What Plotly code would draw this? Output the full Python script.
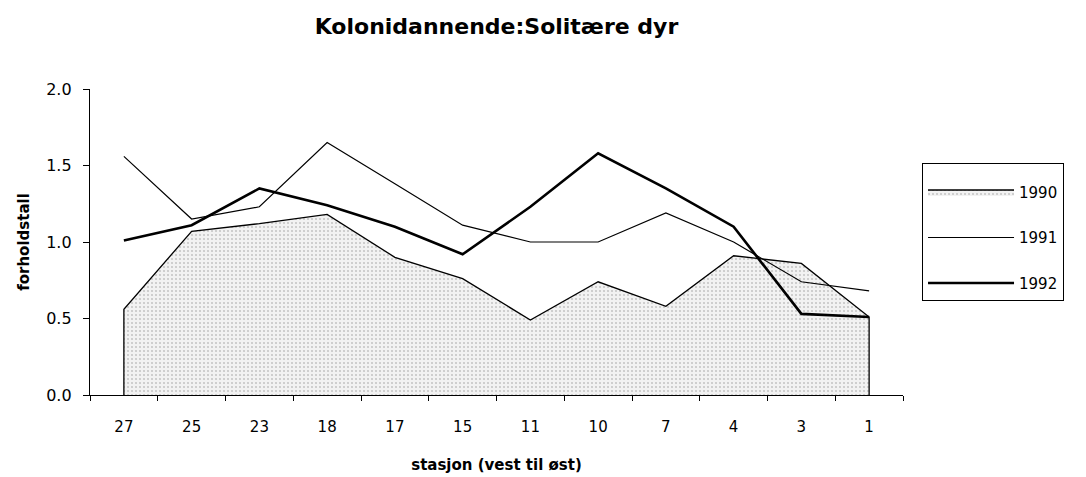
import plotly.graph_objects as go

# stations, west to east
stations = ["27", "25", "23", "18", "17", "15", "11", "10", "7", "4", "3", "1"]

ratio_1990 = [0.56, 1.07, 1.12, 1.18, 0.90, 0.76, 0.49, 0.74, 0.58, 0.91, 0.86, 0.51]
ratio_1991 = [1.56, 1.15, 1.23, 1.65, 1.38, 1.11, 1.00, 1.00, 1.19, 1.00, 0.74, 0.68]
ratio_1992 = [1.01, 1.11, 1.35, 1.24, 1.10, 0.92, 1.23, 1.58, 1.35, 1.10, 0.53, 0.51]

FONT = "DejaVu Sans"

fig = go.Figure()

# area for 1990, closed down to zero at both ends so the outline has vertical edges
fig.add_trace(
    go.Scatter(
        x=[stations[0]] + stations + [stations[-1]],
        y=[0.0] + ratio_1990 + [0.0],
        mode="lines",
        fill="toself",
        fillcolor="#ececec",
        fillpattern=dict(shape=".", fgcolor="#9a9a9a", bgcolor="#f2f2f2", size=4, solidity=0.22),
        line=dict(color="black", width=1.3),
        name="1990",
        legendgroup="1990",
    )
)
fig.add_trace(
    go.Scatter(
        x=stations,
        y=ratio_1991,
        mode="lines",
        line=dict(color="black", width=1.2),
        name="1991",
        legendgroup="1991",
    )
)
fig.add_trace(
    go.Scatter(
        x=stations,
        y=ratio_1992,
        mode="lines",
        line=dict(color="black", width=2.6),
        name="1992",
        legendgroup="1992",
    )
)

fig.update_layout(
    width=1086,
    height=477,
    margin=dict(l=82, r=191, t=81, b=90),
    paper_bgcolor="white",
    plot_bgcolor="white",
    font=dict(family=FONT, size=15, color="black"),
    title=dict(
        text="<b>Kolonidannende:Solitære dyr</b>",
        x=(82 + 895) / 2 / 1086,
        xanchor="center",
        y=1 - 18 / 477,
        yanchor="middle",
        font=dict(family=FONT, size=22, color="black"),
    ),
    showlegend=True,
    legend=dict(
        x=1.0234,
        y=0.758,
        xanchor="left",
        yanchor="top",
        bordercolor="black",
        borderwidth=1,
        bgcolor="white",
        font=dict(family=FONT, size=15, color="black"),
        title=dict(text=" ", font=dict(size=9)),
        tracegroupgap=23,
        itemwidth=86,
    ),
)

fig.update_xaxes(
    type="category",
    categoryorder="array",
    categoryarray=stations,
    range=[-0.5, len(stations) - 0.5],
    showgrid=False,
    zeroline=False,
    showline=True,
    linecolor="black",
    linewidth=1.3,
    ticks="outside",
    tickson="boundaries",
    ticklen=5,
    tickcolor="black",
    tickfont=dict(family=FONT, size=15),
    ticklabelstandoff=18,
    title=dict(
        text="<b>stasjon (vest til øst)</b>",
        font=dict(family=FONT, size=15),
        standoff=24,
    ),
)

fig.update_yaxes(
    range=[0, 2],
    tickvals=[0, 0.5, 1.0, 1.5, 2.0],
    tickformat=".1f",
    showgrid=False,
    zeroline=False,
    showline=True,
    linecolor="black",
    linewidth=1.3,
    ticks="outside",
    ticklen=6,
    tickcolor="black",
    tickfont=dict(family=FONT, size=16),
    ticklabelstandoff=8,
    title=dict(
        text="<b>forholdstall</b>",
        font=dict(family=FONT, size=15),
        standoff=12,
    ),
)

fig.write_html("out.html")
